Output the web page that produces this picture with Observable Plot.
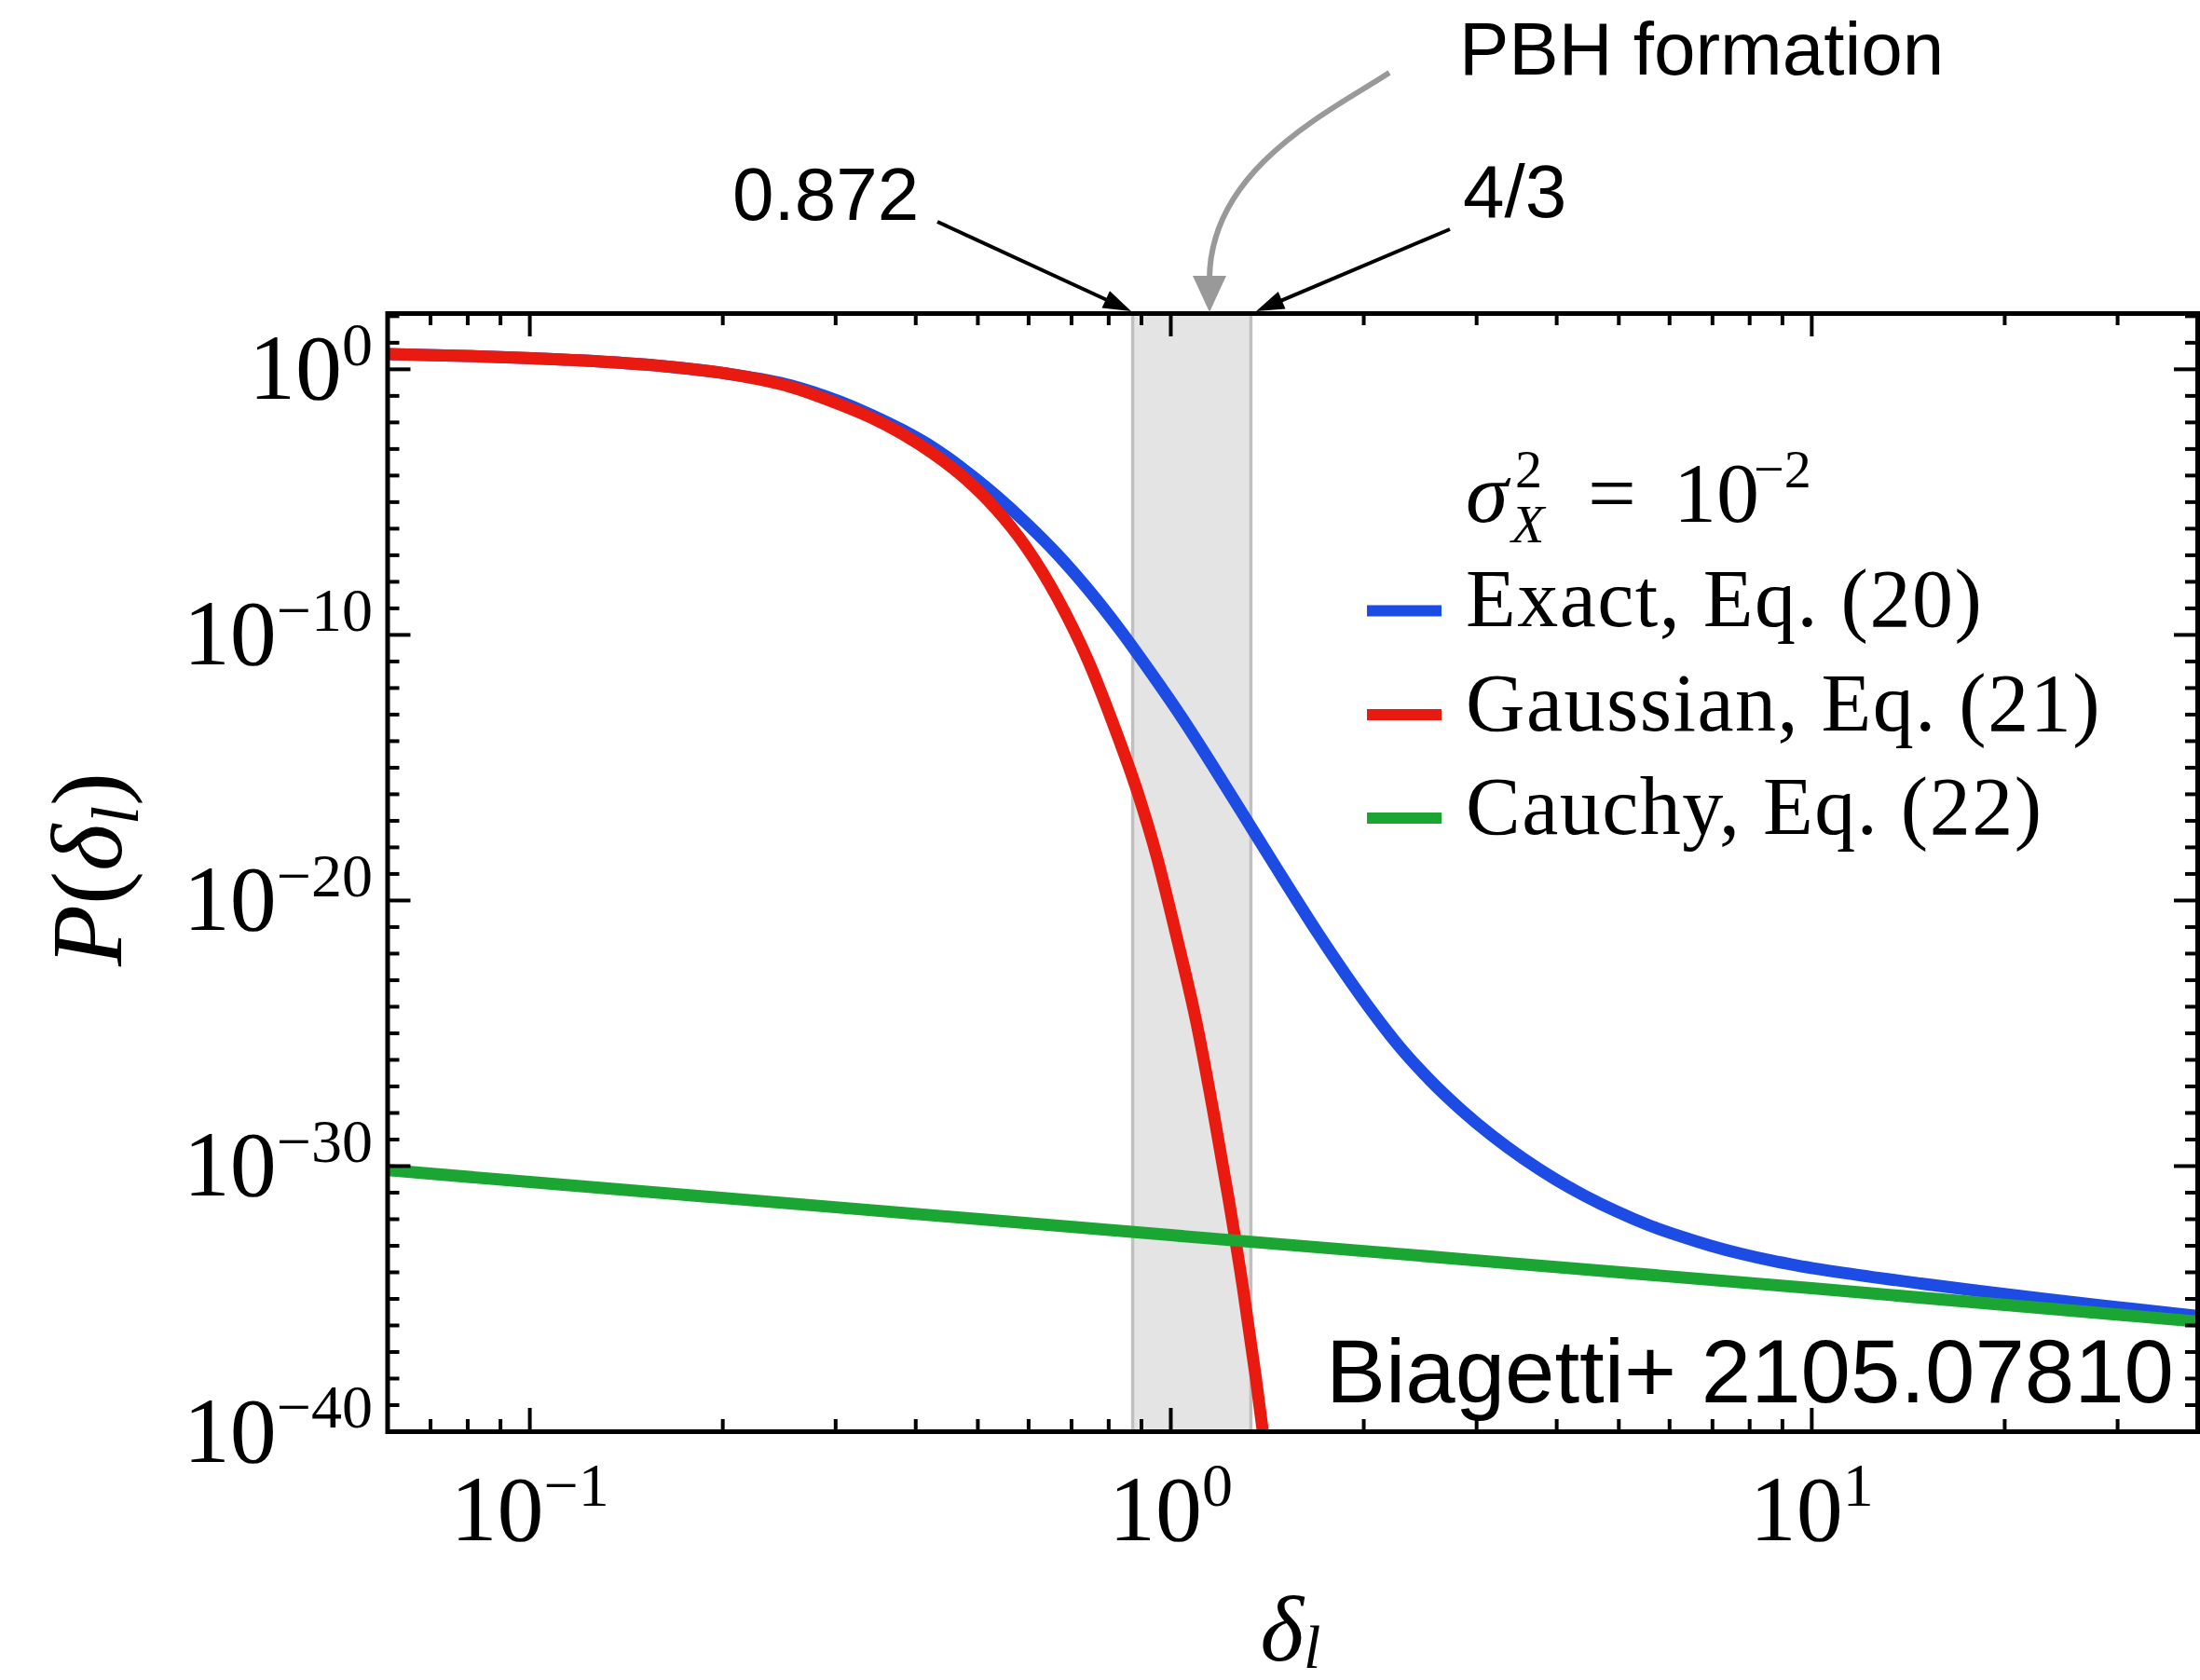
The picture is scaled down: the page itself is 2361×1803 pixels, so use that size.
<!DOCTYPE html>
<html><head><meta charset="utf-8">
<script src="https://cdn.jsdelivr.net/npm/d3@7"></script>
<script src="https://cdn.jsdelivr.net/npm/@observablehq/plot@0.6"></script>
<style>html,body{margin:0;padding:0;background:#fff;overflow:hidden}</style>
</head><body><div id="chart"></div>
<script>
// ---------- data ----------
const deltaExact = [0.06, 0.0834, 0.1167, 0.163, 0.204, 0.255, 0.305, 0.340, 0.381, 0.426, 0.476, 0.533, 0.595, 0.665, 0.745, 0.832, 0.929, 1.041, 1.163, 1.299, 1.455, 1.697, 1.814, 2.033, 2.271, 2.536, 2.841, 3.173, 3.543, 3.970, 4.435, 4.953, 5.549, 6.197, 6.920, 7.753, 8.660, 9.478, 11.82, 14.79, 18.51, 23.09, 28.9, 40];
const log10PExact = [0.57, 0.49, 0.35, 0.11, -0.17, -0.6, -1.22, -1.7, -2.28, -2.95, -3.78, -4.74, -5.79, -6.96, -8.32, -9.79, -11.39, -13.12, -14.93, -16.79, -18.7, -21.24, -22.29, -23.99, -25.49, -26.76, -27.89, -28.86, -29.71, -30.48, -31.13, -31.70, -32.21, -32.62, -32.98, -33.3, -33.56, -33.74, -34.1, -34.42, -34.72, -35.0, -35.27, -35.64];

const deltaGauss = [0.06, 0.0834, 0.1167, 0.163, 0.204, 0.255, 0.305, 0.340, 0.381, 0.426, 0.476, 0.533, 0.595, 0.665, 0.744, 0.813, 0.889, 0.951, 1.015, 1.102, 1.169, 1.230, 1.296, 1.356, 1.397, 1.43];
const log10PGauss = [0.57, 0.49, 0.35, 0.11, -0.17, -0.66, -1.33, -1.81, -2.43, -3.18, -4.08, -5.25, -6.7, -8.6, -11.0, -13.35, -15.98, -18.35, -21.1, -24.85, -28.15, -31.2, -34.6, -37.9, -40.3, -42.2];

const deltaCauchy = [0.06, 0.1, 0.3, 1, 3, 10, 40];
const log10PCauchy = [-30.15, -30.6, -31.55, -32.6, -33.55, -34.6, -35.85];

const bandLimits = [0.872, 4 / 3];           // PBH formation window
const xDomain = [0.06, 40];
const yDomain = [1e-40, Math.pow(10, 2.1)];
const xMajorTicks = [0.1, 1, 10];
const xTickExponents = ["\u22121", "0", "1"];
const xMinorTicks = [0.06, 0.07, 0.08, 0.09, 0.2, 0.3, 0.4, 0.5, 0.6, 0.7, 0.8, 0.9, 2, 3, 4, 5, 6, 7, 8, 9, 20, 30, 40];
const yMajorTicks = [1, 1e-10, 1e-20, 1e-30, 1e-40];
const yTickExponents = ["0", "\u221210", "\u221220", "\u221230", "\u221240"];
const yMinorTicks = d3.range(2, -40, -1).filter(e => e % 10 !== 0).map(e => Math.pow(10, e));

const seriesNames = ["Exact, Eq. (20)", "Gaussian, Eq. (21)", "Cauchy, Eq. (22)"];
const seriesColors = ["#1c4ce4", "#e91b10", "#1ba634"];

// ---------- layout ----------
const W = 2361, H = 1803;
const M = {left: 415.5, right: 3, top: 336, bottom: 267};
const frameW = W - M.left - M.right, frameH = H - M.top - M.bottom;

const toRows = (ds, ls) => ds.map((d, i) => ({delta: d, P: Math.pow(10, ls[i])}));
const exact = toRows(deltaExact, log10PExact);
const gauss = toRows(deltaGauss, log10PGauss);
const cauchy = toRows(deltaCauchy, log10PCauchy);

const lineOpts = (c) => ({x: "delta", y: "P", stroke: c, strokeWidth: 13, curve: "monotone-x", clip: true, strokeLinejoin: "round"});

const plot = Plot.plot({
  width: W, height: H,
  marginLeft: M.left, marginRight: M.right, marginTop: M.top, marginBottom: M.bottom,
  style: {background: "#fff", fontFamily: "'Liberation Serif', serif", color: "#000", overflow: "visible"},
  x: {type: "log", domain: xDomain},
  y: {type: "log", domain: yDomain},
  marks: [
    Plot.rect([bandLimits], {x1: d => d[0], x2: d => d[1], y1: () => yDomain[0], y2: () => yDomain[1], fill: "#e4e4e4"}),
    Plot.ruleX(bandLimits, {stroke: "#c0c0c0", strokeWidth: 3.5}),
    Plot.line(exact, lineOpts(seriesColors[0])),
    Plot.line(gauss, lineOpts(seriesColors[1])),
    Plot.line(cauchy, lineOpts(seriesColors[2])),
    // inward ticks on all four sides
    Plot.ruleX(xMajorTicks, {stroke: "#000", strokeWidth: 4, insetTop: frameH - 25}),
    Plot.ruleX(xMajorTicks, {stroke: "#000", strokeWidth: 4, insetBottom: frameH - 25}),
    Plot.ruleX(xMinorTicks, {stroke: "#000", strokeWidth: 4, insetTop: frameH - 13}),
    Plot.ruleX(xMinorTicks, {stroke: "#000", strokeWidth: 4, insetBottom: frameH - 13}),
    Plot.ruleY(yMajorTicks, {stroke: "#000", strokeWidth: 4, insetRight: frameW - 25}),
    Plot.ruleY(yMajorTicks, {stroke: "#000", strokeWidth: 4, insetLeft: frameW - 25}),
    Plot.ruleY(yMinorTicks, {stroke: "#000", strokeWidth: 4, insetRight: frameW - 13}),
    Plot.ruleY(yMinorTicks, {stroke: "#000", strokeWidth: 4, insetLeft: frameW - 13}),
    Plot.frame({stroke: "#000", strokeWidth: 5}),
    Plot.axisX({ticks: xMajorTicks, tickSize: 0, tickPadding: 45, fontSize: 100, label: null,
      tickFormat: (d) => "10|" + xTickExponents[xMajorTicks.indexOf(d)]}),
    Plot.axisY({ticks: yMajorTicks, tickSize: 0, tickPadding: 16, fontSize: 100, label: null,
      tickFormat: (d) => "10|" + yTickExponents[yMajorTicks.findIndex(t => Math.abs(Math.log10(t) - Math.log10(d)) < 1e-6)]})
  ]
});
document.getElementById("chart").appendChild(plot);

// ---------- superscripted tick labels ----------
const NS = "http://www.w3.org/2000/svg";
d3.select(plot).selectAll("text").each(function () {
  const s = this.textContent;
  if (!s.includes("|")) return;
  const [base, exp] = s.split("|");
  this.textContent = "";
  const a = document.createElementNS(NS, "tspan"); a.textContent = base; this.appendChild(a);
  const b = document.createElementNS(NS, "tspan"); b.textContent = exp;
  b.setAttribute("font-size", 66); b.setAttribute("dy", "-0.55em"); this.appendChild(b);
});

// ---------- annotations, legend, axis titles ----------
const svg = d3.select(plot);
const ann = svg.append("g").attr("text-anchor", "start");
function rich(x, y, parts, attrs = {}) {
  const t = ann.append("text").attr("x", x).attr("y", y).attr("fill", "#000").attr("text-anchor", "start");
  for (const [k, v] of Object.entries(attrs)) t.attr(k, v);
  for (const p of parts) {
    const s = t.append("tspan").text(p.t);
    if (p.size) s.attr("font-size", p.size);
    if (p.italic) s.attr("font-style", "italic");
    if (p.dy) s.attr("dy", p.dy);
  }
  return t;
}
const serif = "'Liberation Serif', serif", sans = "'Liberation Sans', Arial, sans-serif";

// legend
const legendTop = [655.5, 767, 878];
seriesNames.forEach((name, i) => {
  ann.append("line").attr("x1", 1467).attr("x2", 1547).attr("y1", legendTop[i]).attr("y2", legendTop[i])
    .attr("stroke", seriesColors[i]).attr("stroke-width", 12);
  rich(1573, legendTop[i] + 16.5, [{t: name}], {"font-family": serif, "font-size": 88, "letter-spacing": 1.5});
});
rich(1573, 560, [{t: "\u03c3", italic: true}], {"font-family": serif, "font-size": 92});
rich(1622, 582, [{t: "X", italic: true}], {"font-family": serif, "font-size": 58});
rich(1626, 523, [{t: "2"}], {"font-family": serif, "font-size": 58});
rich(1704, 560, [{t: "="}], {"font-family": serif, "font-size": 92});
rich(1796, 560, [{t: "10"}], {"font-family": serif, "font-size": 92});
rich(1882, 523, [{t: "\u22122"}], {"font-family": serif, "font-size": 58});

// sans annotations
rich(1566, 80, [{t: "PBH formation"}], {"font-family": sans, "font-size": 80});
rich(786, 236, [{t: "0.872"}], {"font-family": sans, "font-size": 80});
rich(1570, 233, [{t: "4/3"}], {"font-family": sans, "font-size": 80});
rich(2333, 1505, [{t: "Biagetti+ 2105.07810"}], {"font-family": sans, "font-size": 96, "text-anchor": "end"});

// axis titles
rich(0, 0, [{t: "P", italic: true}, {t: "("}, {t: "\u03b4", italic: true}, {t: "l", italic: true, size: 72, dy: 18}, {t: ")", dy: -18}],
  {"font-family": serif, "font-size": 108, "text-anchor": "middle", transform: "translate(130,933) rotate(-90)"});
rich(1385, 1782, [{t: "\u03b4", italic: true}, {t: "l", italic: true, size: 66, dy: 8}],
  {"font-family": serif, "font-size": 100, "text-anchor": "middle"});

// arrows
function arrow(x0, y0, x1, y1, color, w, len, half) {
  const dx = x1 - x0, dy = y1 - y0, L = Math.hypot(dx, dy), ux = dx / L, uy = dy / L;
  const bx = x1 - ux * len, by = y1 - uy * len;
  ann.append("line").attr("x1", x0).attr("y1", y0).attr("x2", bx + ux * 2).attr("y2", by + uy * 2)
    .attr("stroke", color).attr("stroke-width", w);
  ann.append("path").attr("d", `M${x1},${y1}L${bx - uy * half},${by + ux * half}L${bx + uy * half},${by - ux * half}Z`).attr("fill", color);
}
arrow(1006, 238, 1214, 334, "#000", 4, 30, 10);
arrow(1556, 246, 1348, 334, "#000", 4, 30, 10);
ann.append("path").attr("d", "M1491,78 C1430,118 1298,180 1298,300").attr("fill", "none")
  .attr("stroke", "#999").attr("stroke-width", 6);
ann.append("path").attr("d", "M1298,335 L1280,296 L1316,296 Z").attr("fill", "#999");
</script></body></html>
